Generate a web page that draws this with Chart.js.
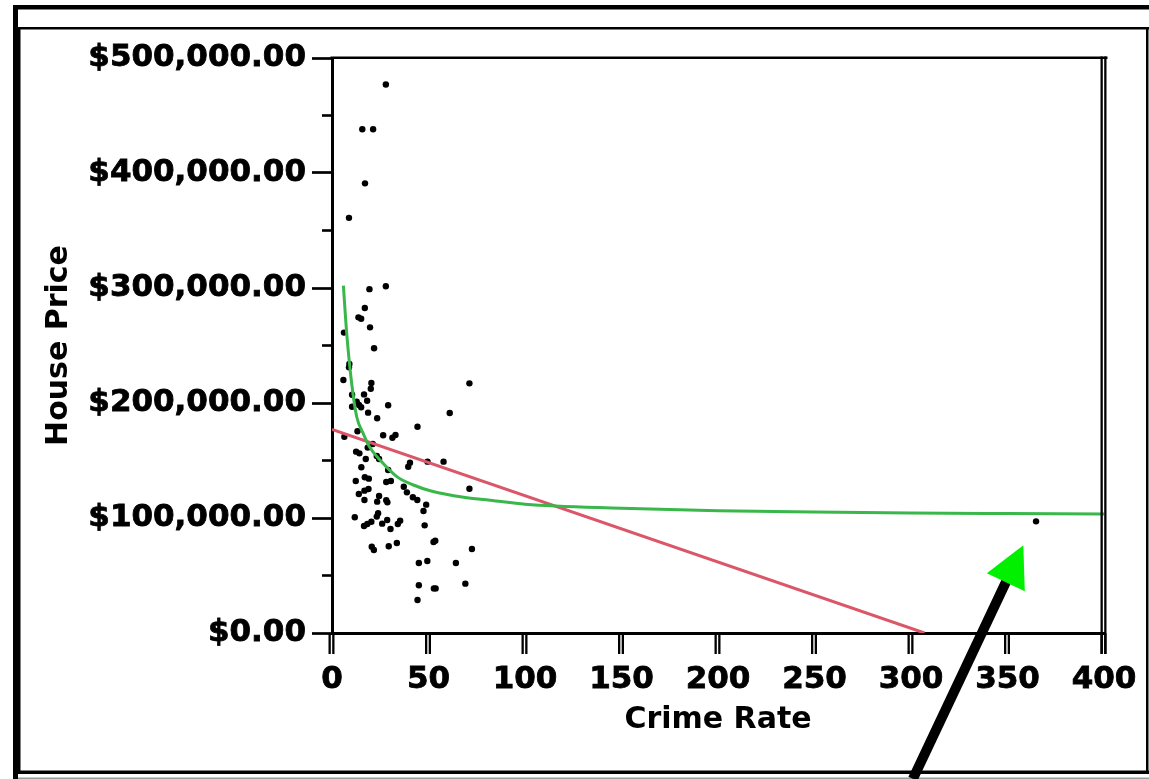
<!DOCTYPE html>
<html>
<head>
<meta charset="utf-8">
<script src="https://cdn.jsdelivr.net/npm/chart.js@4"></script>
<style>
  html, body { margin: 0; padding: 0; background: #fff; }
  #wrap { width: 1149px; height: 779px; }
</style>
</head>
<body>
<div id="wrap"><canvas id="crime-chart" width="1149" height="779"></canvas></div>
<script>
// Puntwolk: misdaadcijfer tegen huizenprijs
const crimeRate = [
  27.9, 15.7, 21.3, 17.1, 8.8,
  19.4, 27.9, 17.0, 13.7, 15.1, 19.7, 6.2, 21.8, 9.0, 8.8, 5.9, 71.2, 20.4, 20.1, 10.4,
  16.6, 18.2, 12.8, 14.0, 10.4, 15.1, 29.1, 18.7, 61.0, 23.4, 44.3, 13.2, 26.5, 32.9, 31.3, 6.4,
  12.5, 14.2, 18.5, 21.1, 17.5, 23.2, 24.4, 40.4, 39.5, 49.5, 57.8, 29.1, 15.2, 17.0, 19.1,
  12.3, 28.1, 30.5, 37.2, 71.2, 18.9, 16.8, 38.8, 13.9, 24.4, 41.9, 44.2, 16.8, 23.4, 28.1,
  28.7, 48.8, 47.4, 23.9, 23.2, 11.8, 28.6, 26.0, 35.3, 34.1, 20.4, 18.3, 16.6, 30.3, 48.0,
  53.5, 52.6, 20.6, 21.7, 29.4, 33.6, 72.5, 45.0, 49.4, 64.2, 45.0, 53.7, 52.8, 69.1, 44.3,
  364.8
];
const housePrice = [
  477000, 438000, 438000, 391000, 361000,
  299000, 301500, 282600, 274500, 273300, 265800, 261200, 247600, 233900, 231000, 220000, 217100, 217400, 212400, 207200,
  207500, 202000, 201100, 198300, 196800, 196300, 198000, 191600, 191300, 186700, 179400, 175400, 172000, 172200, 169800, 170700,
  157700, 156200, 161200, 164300, 151300, 153900, 151300, 148100, 144600, 149000, 149000, 141700, 144100, 135400, 134200,
  132200, 131300, 132200, 127200, 125500, 125200, 123800, 122300, 120900, 119100, 118000, 115700, 115700, 114200, 115400,
  113600, 111600, 106100, 104100, 101200, 100600, 98300, 95100, 97700, 94800, 96800, 94800, 93000, 90400, 93600,
  80300, 79100, 75100, 72200, 75400, 78300, 73000, 60900, 62600, 60900, 41500, 38800, 38800, 42900, 28700,
  97100
];

// Rechte trendlijn (rood)
const linearFitX = [0, 307];
const linearFitY = [177000, 0];

const curveFitX = [5.9, 7.6, 10.2, 12.8, 16.3, 19.4, 24.9, 33.6, 42.2, 50.9, 68.2, 82, 100, 150, 200, 250, 300, 350, 400];
const curveFitY = [302000, 261000, 217000, 188000, 173000, 162000, 150400, 136000, 128700, 123700, 118000, 115500, 112000, 108500, 106300, 105200, 104400, 103900, 103500];

// As-labels
const xTickValues = [0, 50, 100, 150, 200, 250, 300, 350, 400];
const yTickLabels = ['$0.00', '$100,000.00', '$200,000.00', '$300,000.00', '$400,000.00', '$500,000.00'];

// Pijl (annotatie) in datacoordinaten
const arrowTail = { x: 301.0, y: -126800 };
const arrowTip = { x: 358.2, y: 76400 };

const labelFont = { family: 'DejaVu Sans', weight: 'bold', size: 31 };
const titleFont = { family: 'DejaVu Sans', weight: 'bold', size: 30 };

function toPoints(xs, ys) {
  return xs.map((x, i) => ({ x: x, y: ys[i] }));
}

// Kaders, dubbele streepjes en extra randen
const framePlugin = {
  id: 'frame',
  beforeDraw(chart) {
    const ctx = chart.ctx;
    ctx.save();
    ctx.fillStyle = '#fff';
    ctx.fillRect(0, 0, chart.width, chart.height);
    ctx.fillStyle = '#000';
    ctx.fillRect(13, 5, chart.width - 13, 4.5);
    ctx.fillRect(13, 5, 5, chart.height - 5);
    ctx.fillRect(18, 27, chart.width - 18, 2.5);
    ctx.fillRect(18, 27, 2.5, 747);
    ctx.fillRect(1146, 27, 2.5, 747);
    ctx.fillRect(18, 770.5, chart.width - 18, 3.5);
    ctx.fillStyle = '#9a9a9a';
    ctx.fillRect(18, 777.5, chart.width - 18, 1.5);
    ctx.restore();
  },
  afterDraw(chart) {
    const ctx = chart.ctx;
    const area = chart.chartArea;
    const xs = chart.scales.x;
    const ys = chart.scales.y;
    ctx.save();
    ctx.fillStyle = '#000';
    // bovenrand
    ctx.fillRect(area.left - 1.5, area.top - 1.5, area.right - area.left + 5, 2.5);
    // rechterrand (dubbel)
    ctx.fillRect(area.right - 3.5, area.top - 1.5, 2.3, area.bottom - area.top + 22.5);
    ctx.fillRect(area.right + 0.2, area.top - 1.5, 2.3, area.bottom - area.top + 22.5);
    // x-streepjes (dubbel)
    xs.ticks.forEach(t => {
      const px = xs.getPixelForValue(t.value);
      ctx.fillRect(px - 3.5, area.bottom, 2.3, 21);
      ctx.fillRect(px + 0.2, area.bottom, 2.3, 21);
    });
    // kleine y-streepjes
    for (let v = 50000; v < 500000; v += 100000) {
      const py = ys.getPixelForValue(v);
      ctx.fillRect(area.left - 10, py - 1.3, 10, 2.6);
    }
    ctx.restore();
  }
};

const arrowPlugin = {
  id: 'arrow',
  afterDraw(chart) {
    const ctx = chart.ctx;
    const xs = chart.scales.x;
    const ys = chart.scales.y;
    const x0 = xs.getPixelForValue(arrowTail.x), y0 = ys.getPixelForValue(arrowTail.y);
    const x1 = xs.getPixelForValue(arrowTip.x), y1 = ys.getPixelForValue(arrowTip.y);
    const len = Math.hypot(x1 - x0, y1 - y0);
    const ux = (x1 - x0) / len, uy = (y1 - y0) / len;
    const headLen = 41, headHalf = 21;
    const bx = x1 - ux * headLen, by = y1 - uy * headLen;
    ctx.save();
    ctx.strokeStyle = '#000';
    ctx.lineWidth = 10;
    ctx.beginPath();
    ctx.moveTo(x0, y0);
    ctx.lineTo(bx + ux * 4, by + uy * 4);
    ctx.stroke();
    ctx.fillStyle = '#00f000';
    ctx.beginPath();
    ctx.moveTo(x1, y1);
    ctx.lineTo(bx - uy * headHalf, by + ux * headHalf);
    ctx.lineTo(bx + uy * headHalf, by - ux * headHalf);
    ctx.closePath();
    ctx.fill();
    ctx.restore();
  }
};

new Chart(document.getElementById('crime-chart'), {
  type: 'scatter',
  data: {
    datasets: [
      {
        type: 'line',
        data: toPoints(curveFitX, curveFitY),
        borderColor: 'rgb(57, 183, 74)',
        borderWidth: 3,
        pointRadius: 0,
        cubicInterpolationMode: 'monotone',
        showLine: true,
        fill: false,
        order: 0
      },
      {
        type: 'line',
        data: toPoints(linearFitX, linearFitY),
        borderColor: 'rgb(218, 86, 104)',
        borderWidth: 3,
        pointRadius: 0,
        showLine: true,
        fill: false,
        order: 0
      },
      {
        data: toPoints(crimeRate, housePrice),
        backgroundColor: '#000',
        borderWidth: 0,
        pointRadius: 3.2,
        order: 1
      }
    ]
  },
  options: {
    responsive: false,
    animation: false,
    layout: { padding: { left: 0, right: 45, top: 58, bottom: 0 } },
    plugins: {
      legend: { display: false },
      tooltip: { enabled: false }
    },
    scales: {
      x: {
        type: 'linear',
        position: 'bottom',
        min: 0,
        max: 400,
        afterBuildTicks: scale => { scale.ticks = xTickValues.map(v => ({ value: v })); },
        afterFit: scale => { scale.height = 146; },
        ticks: {
          color: '#000',
          font: labelFont,
          padding: 7,
          maxRotation: 0,
          textStrokeColor: '#000',
          textStrokeWidth: 0.8
        },
        grid: { drawOnChartArea: false, drawTicks: true, tickLength: 21, tickColor: 'rgba(0,0,0,0)' },
        border: { color: '#000', width: 3 },
        title: {
          display: true,
          text: 'Crime Rate',
          color: '#000',
          font: titleFont,
          padding: { top: 0, bottom: 41 }
        }
      },
      y: {
        type: 'linear',
        min: 0,
        max: 500000,
        ticks: {
          stepSize: 100000,
          color: '#000',
          font: labelFont,
          padding: 6,
          textStrokeColor: '#000',
          textStrokeWidth: 0.8,
          callback: (value, index) => yTickLabels[index]
        },
        afterFit: scale => { scale.width = 332; },
        grid: { drawOnChartArea: false, tickLength: 20, tickWidth: 2.7, tickColor: '#000' },
        border: { color: '#000', width: 3 },
        title: {
          display: true,
          text: 'House Price',
          color: '#000',
          font: titleFont,
          padding: { top: 41, bottom: 0 }
        }
      }
    }
  },
  plugins: [framePlugin, arrowPlugin]
});
</script>
</body>
</html>
